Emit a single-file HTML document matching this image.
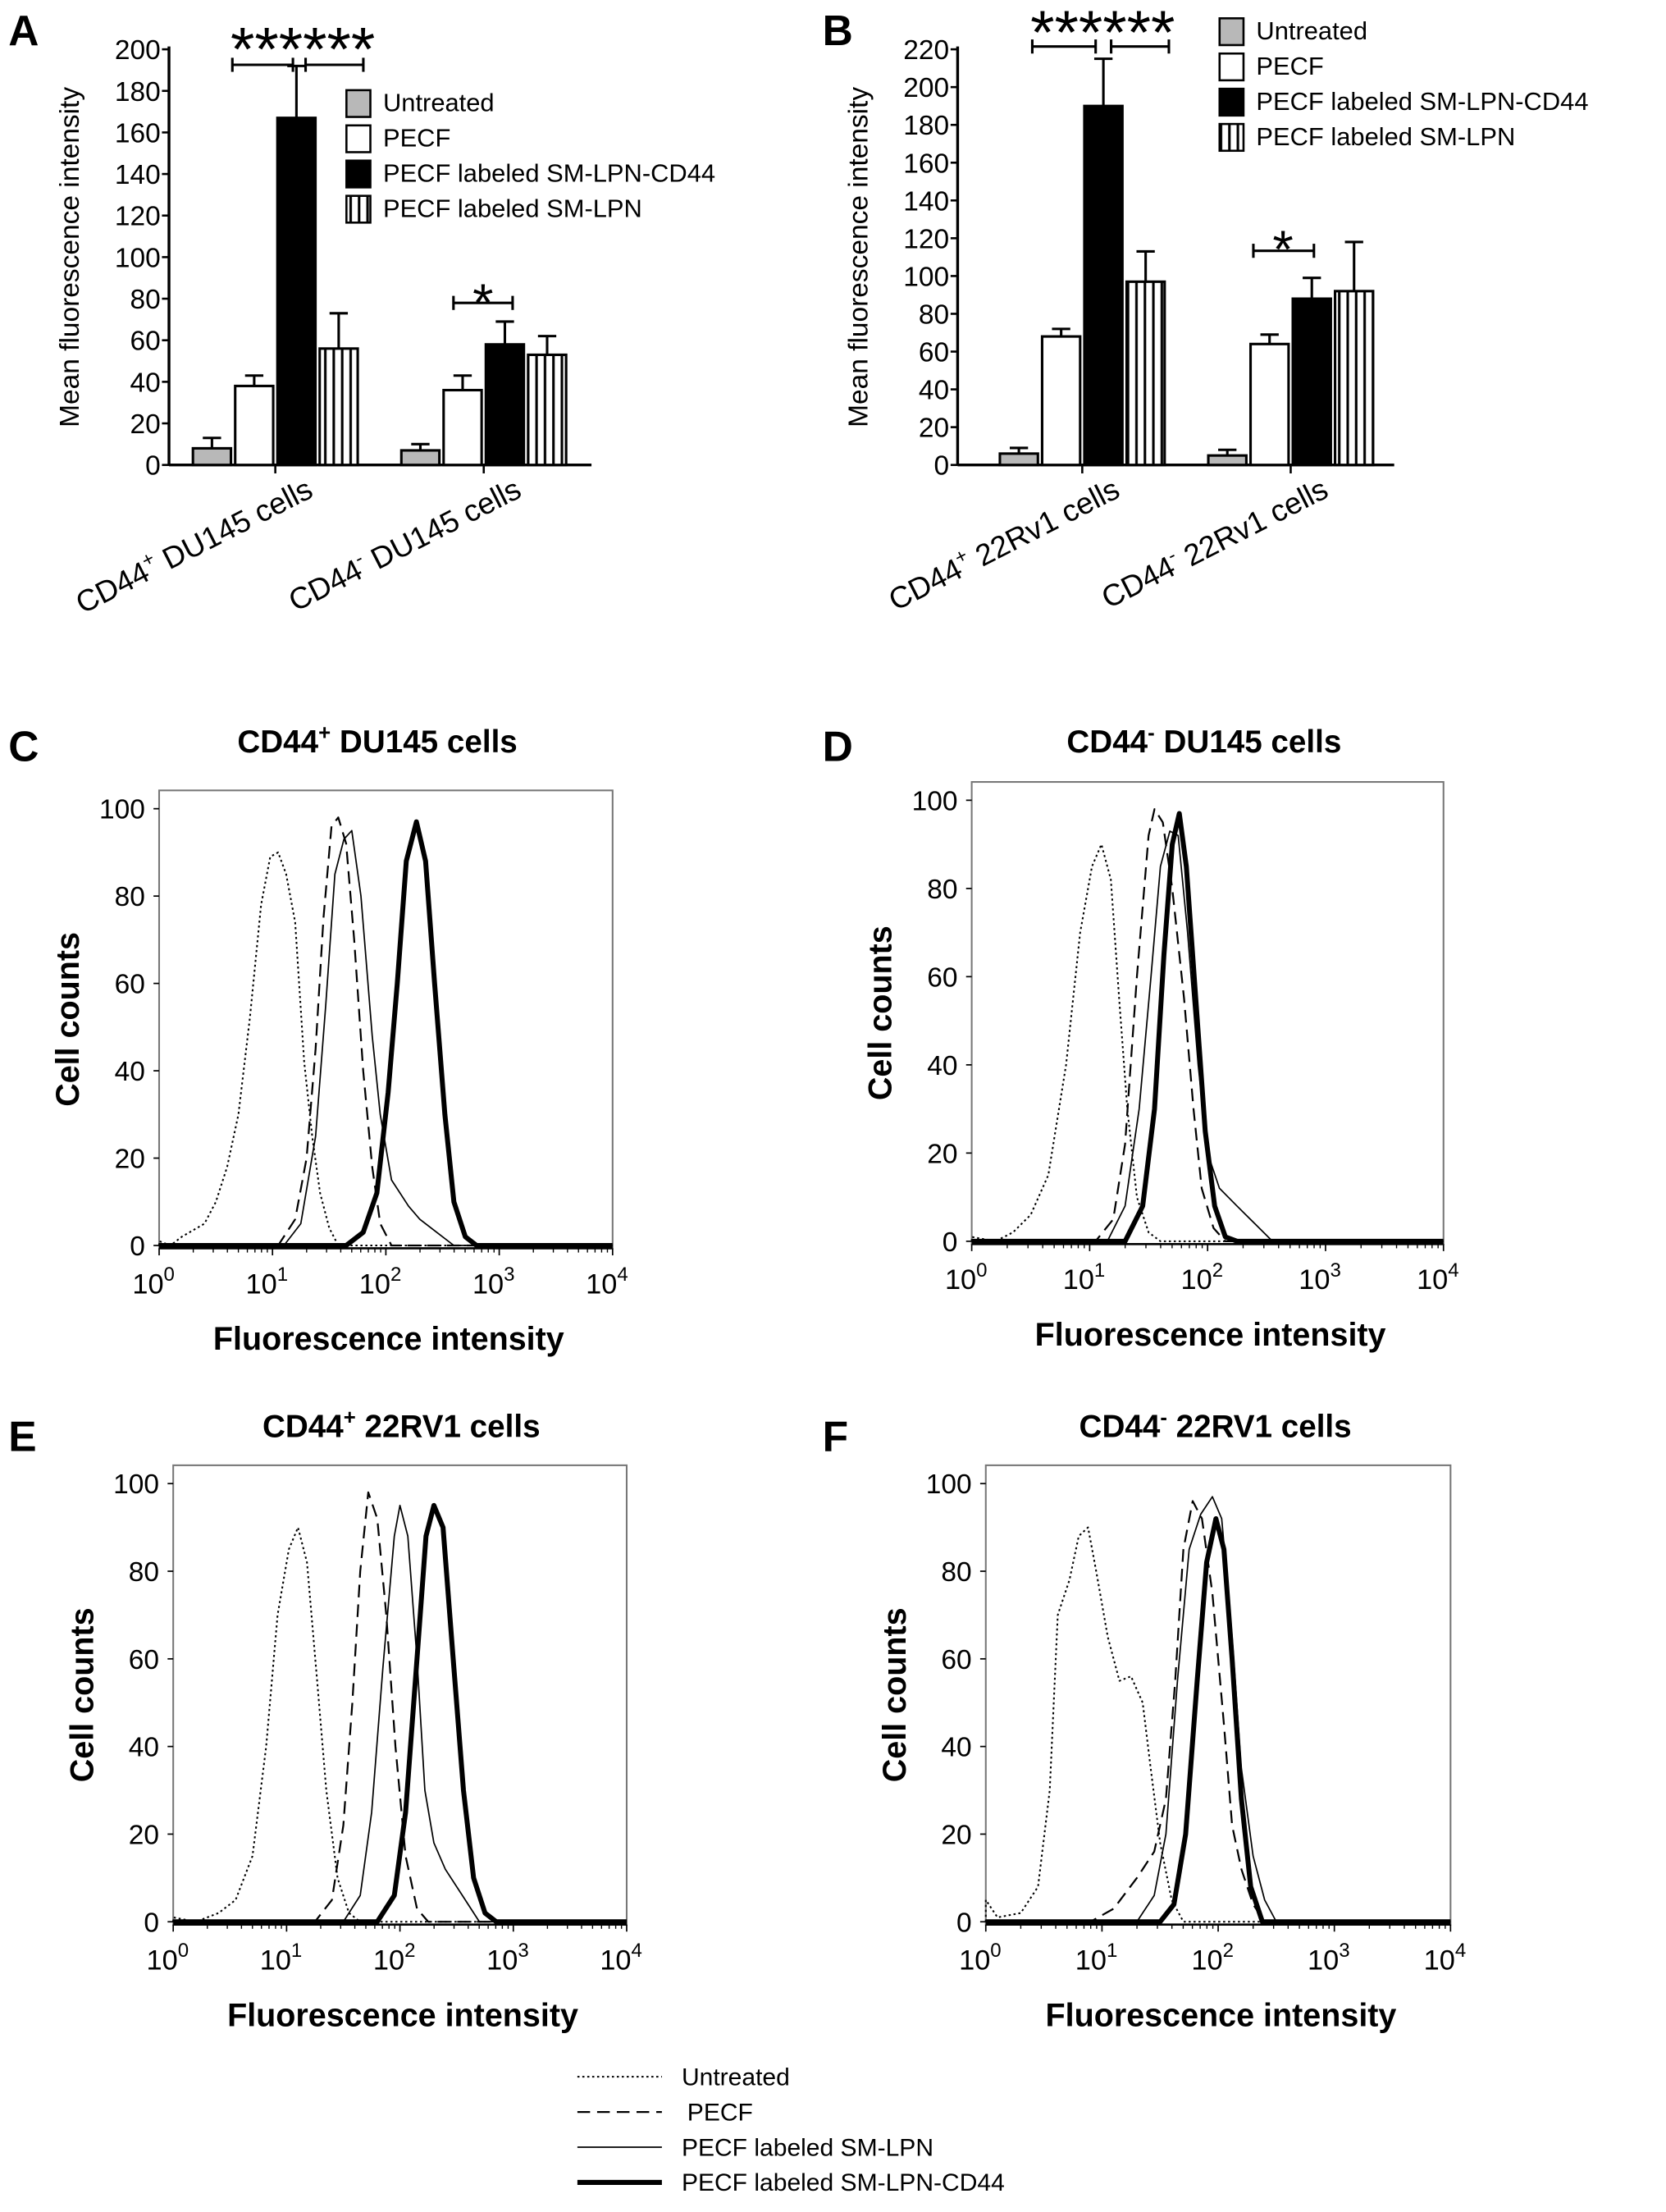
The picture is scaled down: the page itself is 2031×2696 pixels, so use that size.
<!DOCTYPE html>
<html><head><meta charset="utf-8"><style>
html,body{margin:0;padding:0;background:#fff;}
svg{display:block;font-family:"Liberation Sans",Arial,sans-serif;}
</style></head><body>
<svg id="fig" width="2031" height="2696" viewBox="0 0 1183 1570" preserveAspectRatio="none">
<defs>
<pattern id="vh" width="6" height="10" patternUnits="userSpaceOnUse"><rect width="6" height="10" fill="#fff"/><line x1="3" y1="0" x2="3" y2="10" stroke="#000" stroke-width="1.8"/></pattern>
</defs>
<g id="root"></g>
</svg>
<script>
// ---------- Bar chart data ----------
const barSeries = ["Untreated","PECF","PECF labeled SM-LPN-CD44","PECF labeled SM-LPN"];
const catsA = ["CD44+ DU145 cells","CD44- DU145 cells"];
const valsA = [[8,38,167,56],[7,36,58,53]];
const errsA = [[5,5,25,17],[3,7,11,9]];
const ticksA = [0,20,40,60,80,100,120,140,160,180,200];
const catsB = ["CD44+ 22Rv1 cells","CD44- 22Rv1 cells"];
const valsB = [[6,68,190,97],[5,64,88,92]];
const errsB = [[3,4,25,16],[3,5,11,26]];
const ticksB = [0,20,40,60,80,100,120,140,160,180,200,220];

// ---------- Histogram data: [log10 intensity, count] ----------
const histLabels = ["Untreated","PECF","PECF labeled SM-LPN","PECF labeled SM-LPN-CD44"];
const xTicks = [0,1,2,3,4];
const yTicks = [0,20,40,60,80,100];
const C_unt = [[0,1],[0.1,0],[0.2,2],[0.4,5],[0.5,10],[0.6,18],[0.7,30],[0.8,52],[0.9,78],[0.98,89],[1.05,90],[1.12,85],[1.2,74],[1.28,42],[1.35,25],[1.42,12],[1.5,4],[1.58,0]];
const C_pecf = [[1.05,0],[1.2,6],[1.3,20],[1.38,45],[1.45,75],[1.52,96],[1.58,98],[1.65,92],[1.72,70],[1.8,40],[1.88,18],[1.95,5],[2.05,0]];
const C_lpn = [[1.1,0],[1.25,5],[1.38,25],[1.47,55],[1.55,85],[1.63,93],[1.7,95],[1.78,80],[1.88,48],[1.95,30],[2.05,15],[2.2,9],[2.3,6],[2.45,3],[2.6,0]];
const C_cd = [[1.65,0],[1.8,3],[1.92,12],[2.02,35],[2.1,60],[2.18,88],[2.27,97],[2.35,88],[2.43,60],[2.52,30],[2.6,10],[2.7,2],[2.8,0]];
const D_unt = [[0,1],[0.2,0],[0.35,2],[0.5,6],[0.65,15],[0.8,40],[0.92,70],[1.02,85],[1.1,90],[1.18,82],[1.25,55],[1.32,30],[1.4,10],[1.5,2],[1.6,0]];
const D_pecf = [[1.05,0],[1.2,5],[1.3,22],[1.4,60],[1.5,92],[1.55,98],[1.62,95],[1.7,80],[1.8,55],[1.88,30],[1.95,12],[2.05,3],[2.15,0]];
const D_lpn = [[1.15,0],[1.3,8],[1.42,30],[1.52,60],[1.6,85],[1.68,93],[1.75,92],[1.83,70],[1.92,40],[2.0,20],[2.1,12],[2.25,8],[2.4,4],[2.55,0]];
const D_cd = [[1.3,0],[1.45,8],[1.55,30],[1.63,65],[1.7,90],[1.76,97],[1.82,85],[1.9,55],[1.98,25],[2.06,8],[2.15,1],[2.25,0]];
const E_unt = [[0,1],[0.2,0],[0.4,2],[0.55,5],[0.7,15],[0.82,40],[0.92,70],[1.02,85],[1.1,90],[1.18,82],[1.27,55],[1.35,30],[1.45,10],[1.55,2],[1.65,0]];
const E_pecf = [[1.25,0],[1.4,5],[1.5,22],[1.58,50],[1.65,80],[1.72,98],[1.8,92],[1.88,70],[1.96,40],[2.05,15],[2.15,3],[2.25,0]];
const E_lpn = [[1.5,0],[1.65,6],[1.75,25],[1.85,58],[1.95,88],[2.0,95],[2.07,88],[2.15,60],[2.22,30],[2.3,18],[2.4,12],[2.55,6],[2.7,0]];
const E_cd = [[1.8,0],[1.95,6],[2.05,25],[2.15,60],[2.23,88],[2.3,95],[2.38,90],[2.47,60],[2.56,30],[2.65,10],[2.75,2],[2.85,0]];
const F_unt = [[0,5],[0.1,1],[0.3,2],[0.45,8],[0.55,30],[0.62,70],[0.72,78],[0.8,88],[0.88,90],[0.95,80],[1.05,65],[1.15,55],[1.25,56],[1.35,50],[1.42,35],[1.5,18],[1.6,5],[1.7,0]];
const F_pecf = [[0.9,0],[1.1,3],[1.3,10],[1.45,16],[1.55,28],[1.63,55],[1.7,85],[1.78,96],[1.86,92],[1.95,75],[2.05,45],[2.12,22],[2.2,12],[2.3,4],[2.4,0]];
const F_lpn = [[1.3,0],[1.45,6],[1.55,20],[1.65,55],[1.75,85],[1.85,93],[1.95,97],[2.03,92],[2.12,65],[2.2,35],[2.3,15],[2.4,5],[2.5,0]];
const F_cd = [[1.5,0],[1.62,4],[1.72,20],[1.82,55],[1.9,82],[1.98,92],[2.05,85],[2.12,60],[2.2,28],[2.28,8],[2.38,0]];

const NS = "http://www.w3.org/2000/svg";
const root = document.getElementById("root");
function mk(tag, attrs, parent, text){
  const e = document.createElementNS(NS, tag);
  for (const k in attrs) e.setAttribute(k, attrs[k]);
  if (text !== undefined) e.textContent = text;
  (parent || root).appendChild(e);
  return e;
}
const fills = ["#b8b8b8","#fff","#000","url(#vh)"];

function barChart(cfg){
  const g = mk("g", {});
  
  
  const y = v => cfg.y0 - v / cfg.ymax * (cfg.y0 - cfg.ytop);
  const pl = mk("text", {x:cfg.lx, y:cfg.ly, "font-size":30, "font-weight":"bold"}, g, cfg.letter);
  
  
  mk("line", {x1:cfg.x0, y1:cfg.ytop-2, x2:cfg.x0, y2:cfg.y0, stroke:"#000","stroke-width":2}, g);
  mk("line", {x1:cfg.x0, y1:cfg.y0, x2:cfg.xend, y2:cfg.y0, stroke:"#000","stroke-width":2}, g);
  cfg.ticks.forEach(t => {
    mk("line", {x1:cfg.x0-5, y1:y(t), x2:cfg.x0, y2:y(t), stroke:"#000","stroke-width":1.5}, g);
    const tl = mk("text", {x:cfg.x0-6, y:y(t)+7, "font-size":19.5, "text-anchor":"end"}, g, t);
    
    
  });
  const yt = mk("text", {transform:`translate(${cfg.x0-64},${(cfg.y0+cfg.ytop)/2}) rotate(-90)`, "font-size":19.5, "text-anchor":"middle"}, g, "Mean fluorescence intensity");
  
  
  cfg.cats.forEach((c, ci) => {
    const gx = cfg.gstart[ci];
    cfg.vals[ci].forEach((v, si) => {
      const bx = gx + si * 30;
      const top = y(v), et = y(v + cfg.errs[ci][si]);
      const el = mk("line", {x1:bx+13.5, y1:top, x2:bx+13.5, y2:et, stroke:"#000","stroke-width":1.8}, g);
      
      
      mk("line", {x1:bx+7, y1:et, x2:bx+20, y2:et, stroke:"#000","stroke-width":1.8}, g);
      const r = mk("rect", {x:bx, y:top, width:27, height:cfg.y0-top, fill:fills[si], stroke:"#000","stroke-width":1.8}, g);
      
      
    });
    const tx = gx + 58.5;
    mk("line", {x1:tx, y1:cfg.y0, x2:tx, y2:cfg.y0+6, stroke:"#000","stroke-width":1.5}, g);
    const parts = c.split(" ");
    const sign = parts[0].slice(-1), base = parts[0].slice(0,-1);
    const lab = mk("text", {transform:`translate(${tx+28},${cfg.y0+22}) rotate(-27)`, "font-size":21.5, "text-anchor":"end"}, g);
    
    
    mk("tspan", {}, lab, base);
    mk("tspan", {dy:-9, "font-size":14}, lab, sign === "+" ? "+" : "-");
    mk("tspan", {dy:9}, lab, " " + parts.slice(1).join(" "));
  });
  // legend
  barSeries.forEach((s, i) => {
    const ly = cfg.legY + i * cfg.legStep;
    const sw = mk("rect", {x:cfg.legX, y:ly-9, width:17, height:19, fill:fills[i], stroke:"#000","stroke-width":1.5}, g);
    
    
    const lt = mk("text", {x:cfg.legX+26, y:ly+6, "font-size":18}, g, s);
    
    
  });
  // significance
  cfg.sig.forEach(b => {
    const sg = mk("g", {stroke:"#000","stroke-width":1.8}, g);
    
    
    mk("line", {x1:b[0], y1:b[2], x2:b[1], y2:b[2]}, sg);
    mk("line", {x1:b[0], y1:b[2]-5, x2:b[0], y2:b[2]+5}, sg);
    mk("line", {x1:b[1], y1:b[2]-5, x2:b[1], y2:b[2]+5}, sg);
  });
  cfg.stars.forEach(s => {
    const st = mk("text", {x:s[0], y:s[1], "font-size":s[3], "text-anchor":"middle"}, g, s[2]);
    
    
  });
}

barChart({name:"bar-chart-a", letter:"A", lx:6, ly:32, x0:120, xend:420, y0:330, ytop:35, ymax:200, ticks:ticksA,
  cats:catsA, vals:valsA, errs:errsA, gstart:[137,285], legX:246, legY:73, legStep:25,
  sig:[[165,208,46],[217,258,46],[322,364,215]], stars:[[215,50,"******",44],[343,228,"*",38]]});
barChart({name:"bar-chart-b", letter:"B", lx:584, ly:32, x0:680, xend:990, y0:330, ytop:35, ymax:220, ticks:ticksB,
  cats:catsB, vals:valsB, errs:errsB, gstart:[710,858], legX:866, legY:22, legStep:25,
  sig:[[733,778,33],[789,830,33],[890,933,178]], stars:[[783,38,"******",44],[911,190,"*",38]]});

const styles = [
  {w:1.2, d:"1.5 2"},
  {w:1.3, d:"9 5"},
  {w:1, d:""},
  {w:3.5, d:""}
];
function hist(cfg){
  const g = mk("g", {});
  
  
  const {L,R,T,B} = cfg;
  const xs = v => L + v/4 * (R - L);
  const ys = v => (B - 2) - v/100 * (B - 2 - (T + 13));
  const pl = mk("text", {x:cfg.lx, y:cfg.ly, "font-size":30, "font-weight":"bold"}, g, cfg.letter);
  
  
  const tt = mk("text", {x:cfg.tx, y:cfg.ty, "font-size":22.5, "font-weight":"bold", "text-anchor":"middle"}, g);
  
  
  mk("tspan", {}, tt, "CD44");
  mk("tspan", {dy:-9, "font-size":15}, tt, cfg.sign);
  mk("tspan", {dy:9}, tt, " " + cfg.cell + " cells");
  mk("rect", {x:L, y:T, width:R-L, height:B-T, fill:"none", stroke:"#777","stroke-width":1.2}, g);
  mk("line", {x1:L, y1:B, x2:R, y2:B, stroke:"#000","stroke-width":1.5}, g);
  yTicks.forEach(t => {
    mk("line", {x1:L-4, y1:ys(t), x2:L, y2:ys(t), stroke:"#000"}, g);
    const tl = mk("text", {x:L-10, y:ys(t)+7, "font-size":19.5, "text-anchor":"end"}, g, t);
    
    
  });
  xTicks.forEach(t => {
    mk("line", {x1:xs(t), y1:B, x2:xs(t), y2:B+5, stroke:"#000"}, g);
    for (let k = 2; k < 10 && t < 4; k++) {
      const mx = xs(t + Math.log10(k));
      mk("line", {x1:mx, y1:B, x2:mx, y2:B+3, stroke:"#000","stroke-width":0.8}, g);
    }
    const tl = mk("text", {x:xs(t)-4, y:B+32, "font-size":20, "text-anchor":"middle"}, g);
    
    
    mk("tspan", {}, tl, "10");
    mk("tspan", {dy:-9, "font-size":14}, tl, t);
  });
  const xt = mk("text", {x:(L+R)/2+2, y:B+72, "font-size":23, "font-weight":"bold", "text-anchor":"middle"}, g, "Fluorescence intensity");
  
  
  const yt = mk("text", {transform:`translate(${L-57},${(T+B)/2}) rotate(-90)`, "font-size":23, "font-weight":"bold", "text-anchor":"middle"}, g, "Cell counts");
  
  
  cfg.series.forEach((pts, i) => {
    let d = "M" + xs(0) + "," + ys(0);
    pts.forEach(p => { d += " L" + xs(p[0]).toFixed(1) + "," + ys(p[1]).toFixed(1); });
    d += " L" + xs(4) + "," + ys(0);
    const p = mk("path", {d:d, fill:"none", stroke:"#000", "stroke-width":styles[i].w, "stroke-dasharray":styles[i].d, "stroke-linejoin":"round"}, g);
    
    
  });
}
hist({name:"histogram-c", letter:"C", lx:6, ly:540, tx:268, ty:534, sign:"+", cell:"DU145", L:113, R:435, T:561, B:886, series:[C_unt,C_pecf,C_lpn,C_cd]});
hist({name:"histogram-d", letter:"D", lx:584, ly:540, tx:855, ty:534, sign:"-", cell:"DU145", L:690, R:1025, T:555, B:883, series:[D_unt,D_pecf,D_lpn,D_cd]});
hist({name:"histogram-e", letter:"E", lx:6, ly:1030, tx:285, ty:1020, sign:"+", cell:"22RV1", L:123, R:445, T:1040, B:1366, series:[E_unt,E_pecf,E_lpn,E_cd]});
hist({name:"histogram-f", letter:"F", lx:584, ly:1030, tx:863, ty:1020, sign:"-", cell:"22RV1", L:700, R:1030, T:1040, B:1366, series:[F_unt,F_pecf,F_lpn,F_cd]});

// bottom legend
const lg = mk("g", {});


const legYs = [1474, 1499, 1524, 1549];
histLabels.forEach((s, i) => {
  const ly = legYs[i];
  mk("line", {x1:410, y1:ly, x2:470, y2:ly, stroke:"#000", "stroke-width":styles[i].w, "stroke-dasharray":styles[i].d}, lg);
  const t = mk("text", {x:i==1?488:484, y:ly+6, "font-size":17.5}, lg, s);
  
  
});
</script>
</body></html>
